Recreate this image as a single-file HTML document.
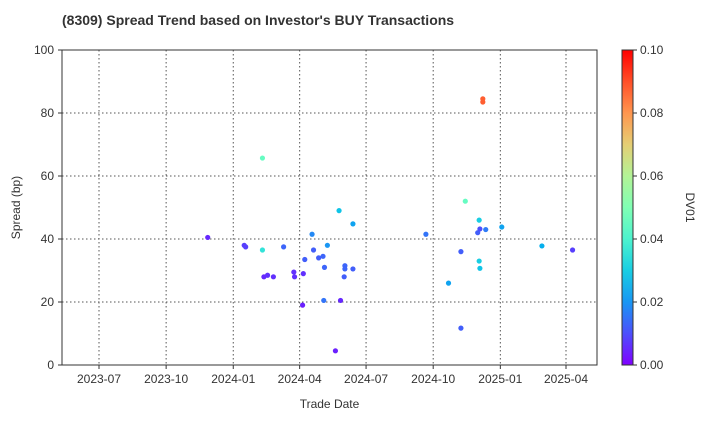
<!DOCTYPE html>
<html><head><meta charset="utf-8"><style>
body{margin:0;background:#fff;font-family:"Liberation Sans",sans-serif}
</style></head><body>
<svg id="c" width="720" height="420" xmlns="http://www.w3.org/2000/svg" font-family="Liberation Sans, sans-serif">
<defs><linearGradient id="cb" x1="0" y1="1" x2="0" y2="0"></linearGradient></defs>
<text x="62" y="25" font-size="14" font-weight="bold" fill="#333">(8309)   Spread Trend based on Investor's BUY Transactions</text>
<g id="grid"></g><g id="pts"></g><g id="axes"></g>
</svg>
<script>
const dates=["2023-11-27","2024-01-16","2024-01-18","2024-02-10","2024-02-10","2024-02-12","2024-02-17","2024-02-25","2024-03-10","2024-03-24","2024-03-25","2024-04-05","2024-04-06","2024-04-08","2024-04-18","2024-04-20","2024-04-27","2024-05-03","2024-05-05","2024-05-04","2024-05-09","2024-05-20","2024-05-25","2024-05-27","2024-06-02","2024-06-02","2024-06-01","2024-06-13","2024-06-13","2024-09-21","2024-10-22","2024-11-08","2024-11-08","2024-11-14","2024-12-03","2024-12-01","2024-12-04","2024-12-12","2024-12-03","2024-12-04","2024-12-08","2024-12-08","2025-01-03","2025-02-27","2025-04-10"];
const spreads=[40.5,38,37.5,65.7,36.5,28,28.5,28,37.5,29.5,28,19,29,33.5,41.5,36.5,34,34.5,31,20.5,38,4.5,49,20.5,31.5,30.5,28,30.5,44.8,41.5,26,11.7,36,52,46,42,43.2,43,33,30.7,84.5,83.5,43.8,37.8,36.5];
const dv01=[0.005,0.008,0.008,0.045,0.035,0.005,0.006,0.006,0.013,0.006,0.006,0.004,0.006,0.012,0.018,0.012,0.012,0.013,0.013,0.015,0.02,0.004,0.028,0.005,0.013,0.013,0.012,0.012,0.022,0.015,0.022,0.012,0.012,0.045,0.03,0.012,0.01,0.016,0.03,0.028,0.088,0.088,0.022,0.024,0.008];
const yTicks=[0,20,40,60,80,100];
const xTicks=["2023-07","2023-10","2024-01","2024-04","2024-07","2024-10","2025-01","2025-04"];
const cTicks=[0,0.02,0.04,0.06,0.08,0.10];
const NS="http://www.w3.org/2000/svg";
const L=62,R=597,T=50,B=365;
const t0=Date.UTC(2023,6,1),ppd=467/640;
function X(s){const p=s.split("-");const d=Date.UTC(+p[0],+p[1]-1,p[2]?+p[2]:1);return 99+(d-t0)/864e5*ppd;}
function Y(v){return B-(v/100)*(B-T);}
function rb(x){const c=v=>Math.max(0,Math.min(1,v));const r=c(Math.abs(2*x-0.5)),g=c(Math.sin(Math.PI*x)),b=c(Math.cos(Math.PI*x/2));return `rgb(${Math.round(r*255)},${Math.round(g*255)},${Math.round(b*255)})`;}
function el(t,a,p,txt){const e=document.createElementNS(NS,t);for(const k in a)e.setAttribute(k,a[k]);if(txt!==undefined)e.textContent=txt;p.appendChild(e);return e;}
const grid=document.getElementById("grid"),pts=document.getElementById("pts"),axes=document.getElementById("axes");
yTicks.forEach(v=>{const y=Y(v);
 if(v>0&&v<100){const g=el("line",{x1:L,x2:R,y1:y,y2:y,stroke:"#555","stroke-dasharray":"1.5,2.5","stroke-width":1},grid);}
 el("line",{x1:L-4,x2:L,y1:y,y2:y,stroke:"#333"},axes);
 const t=el("text",{x:L-8,y:y+4,"text-anchor":"end","font-size":12,fill:"#333"},axes,String(v));});
xTicks.forEach(s=>{const x=X(s);
 const g=el("line",{x1:x,x2:x,y1:T,y2:B,stroke:"#555","stroke-dasharray":"1.5,2.5","stroke-width":1},grid);
 el("line",{x1:x,x2:x,y1:B,y2:B+4,stroke:"#333"},axes);
 const t=el("text",{x:x,y:B+18,"text-anchor":"middle","font-size":12,fill:"#333"},axes,s);});
dates.forEach((d,i)=>{const c=el("circle",{cx:X(d),cy:Y(spreads[i]),r:2.6,fill:rb(dv01[i]/0.1)},pts);});
const fr=el("rect",{x:L,y:T,width:R-L,height:B-T,fill:"none",stroke:"#333"},axes);
const yl=el("text",{x:0,y:0,transform:`translate(20,${(T+B)/2}) rotate(-90)`,"text-anchor":"middle","font-size":12,fill:"#333"},axes,"Spread (bp)");
const xl=el("text",{x:(L+R)/2,y:408,"text-anchor":"middle","font-size":12,fill:"#333"},axes,"Trade Date");
const grad=document.getElementById("cb");
for(let i=0;i<=10;i++)el("stop",{offset:i/10,"stop-color":rb(i/10)},grad);
const CL=622,CR=633;
const cbr=el("rect",{x:CL,y:T,width:CR-CL,height:B-T,fill:"url(#cb)",stroke:"#333"},axes);
cTicks.forEach(v=>{const y=B-(v/0.1)*(B-T);el("line",{x1:CR,x2:CR+4,y1:y,y2:y,stroke:"#333"},axes);
 const t=el("text",{x:CR+7,y:y+4,"font-size":12,fill:"#333"},axes,v.toFixed(2));});
const cl=el("text",{x:0,y:0,transform:`translate(686,${(T+B)/2}) rotate(90)`,"text-anchor":"middle","font-size":12,fill:"#333"},axes,"DV01");
</script>
</body></html>
